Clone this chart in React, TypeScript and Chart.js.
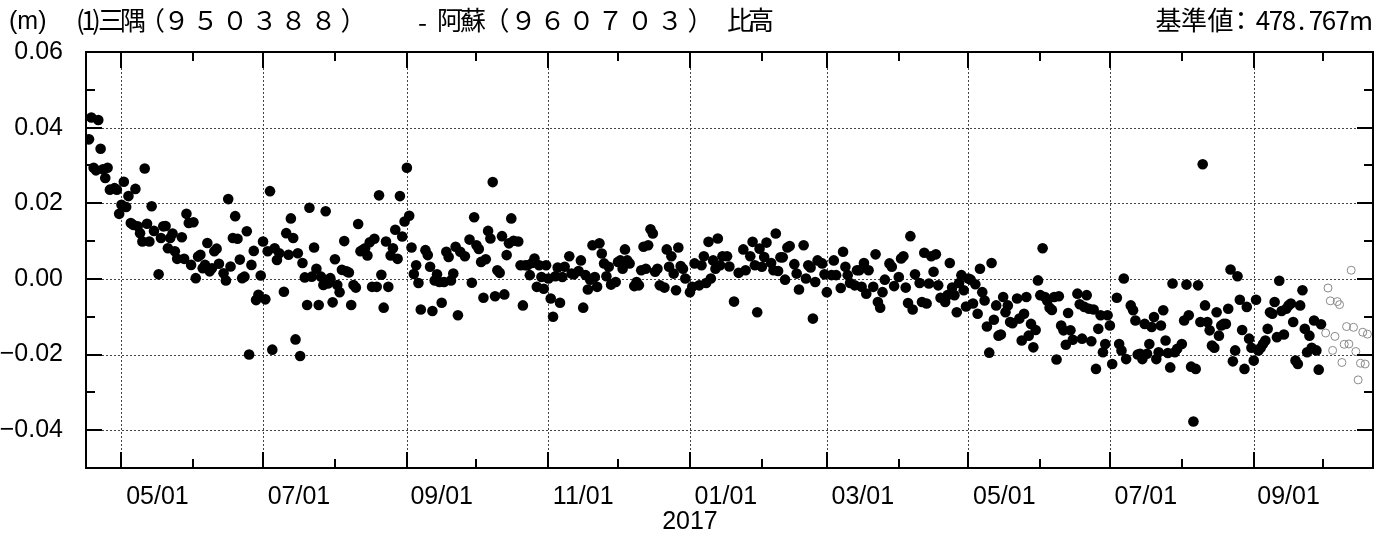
import React, { useEffect, useRef } from 'react';
import { Chart, registerables } from 'chart.js';

Chart.register(...registerables);

// ---- time base: day index counted from 2016-04-16 ----
const START = Date.UTC(2016, 3, 16);
const dayOf = (y: number, m: number, d: number) => Math.round((Date.UTC(y, m - 1, d) - START) / 86400000);

const X_MIN = -0.3;
const X_MAX = 554.4;
const Y_MIN = -0.05;
const Y_MAX = 0.06;

// ---- axis definitions ----
const yTickValues = [-0.04, -0.02, 0, 0.02, 0.04, 0.06];
const yMinorValues = [-0.03, -0.01, 0.01, 0.03, 0.05];
const yGridValues = [-0.04, -0.02, 0, 0.02, 0.04];
const monthStarts: [number, number][] = [
  [2016, 5], [2016, 6], [2016, 7], [2016, 8], [2016, 9], [2016, 10], [2016, 11], [2016, 12],
  [2017, 1], [2017, 2], [2017, 3], [2017, 4], [2017, 5], [2017, 6], [2017, 7], [2017, 8], [2017, 9], [2017, 10],
];
const xTickLabels = ['05/01', '07/01', '09/01', '11/01', '01/01', '03/01', '05/01', '07/01', '09/01'];
const yearLabel = '2017';
const yearLabelDate: [number, number, number] = [2017, 1, 1];

// ---- data: daily relative height (m), day index from 2016-04-16 ----
const solidDays = [
  1, 2, 3, 4, 5, 6, 7, 8, 9, 10, 12, 13, 14, 15, 16, 17, 18, 19, 20, 21, 22, 23, 24, 25, 26, 27, 28, 29,
  31, 32, 33, 34, 35, 36, 37, 38, 39, 41, 42, 43, 44, 45, 46, 47, 48, 49, 50, 51, 52, 53, 54, 55, 56, 57,
  59, 60, 61, 62, 63, 64, 65, 66, 67, 68, 69, 70, 71, 72, 73, 74, 75, 76, 77, 78, 79, 80, 81, 82, 83,
  85, 86, 87, 88, 89, 90, 91, 92, 93, 94, 95, 96, 97, 98, 99, 100, 101, 102, 103, 104, 105, 106, 107, 108,
  109, 110, 111, 112, 113, 114, 115, 116, 117, 118, 119, 120, 121, 122, 123, 124, 125, 126, 127, 128, 129,
  130, 131, 132, 133, 134, 135, 136, 137, 138, 139, 140, 141, 142, 143, 144, 146, 147, 148, 149, 150, 151,
  152, 153, 154, 155, 156, 157, 158, 159, 160, 161, 163, 165, 166, 167, 168, 169, 170, 171, 172, 173, 174,
  175, 176, 177, 178, 179, 180, 181, 182, 183, 184, 186, 187, 188, 189, 190, 191, 192, 193, 194, 195, 196,
  197, 198, 199, 200, 201, 202, 203, 204, 205, 206, 208, 209, 210, 212, 213, 214, 215, 216, 217, 218, 219,
  220, 221, 222, 223, 224, 225, 226, 228, 229, 230, 231, 232, 233, 234, 236, 237, 238, 239, 240, 241, 242,
  243, 244, 245, 246, 247, 249, 250, 251, 252, 253, 254, 255, 256, 257, 258, 260, 261, 262, 264, 265, 266,
  267, 268, 269, 270, 271, 272, 273, 274, 276, 277, 279, 281, 283, 284, 286, 287, 288, 289, 290, 291, 292,
  293, 295, 296, 297, 298, 299, 300, 301, 302, 303, 305, 306, 307, 309, 310, 311, 312, 313, 314, 315, 317,
  318, 319, 321, 322, 323, 325, 326, 327, 328, 329, 331, 332, 333, 334, 335, 336, 337, 339, 340, 341, 342,
  343, 344, 346, 347, 348, 350, 351, 352, 353, 354, 355, 356, 357, 359, 360, 361, 362, 363, 364, 365, 366,
  367, 368, 370, 371, 372, 373, 374, 375, 376, 377, 378, 379, 380, 381, 382, 383, 384, 385, 386, 387, 388,
  389, 390, 391, 392, 393, 394, 395, 396, 397, 398, 399, 401, 402, 403, 404, 405, 406, 407, 408, 409, 410,
  411, 412, 413, 414, 415, 416, 417, 418, 419, 420, 421, 422, 423, 424, 425, 427, 428, 429, 430, 431, 432,
  433, 434, 435, 436, 437, 438, 439, 440, 441, 442, 444, 445, 446, 447, 448, 450, 451, 452, 453, 454, 455,
  456, 457, 458, 459, 460, 461, 462, 463, 464, 465, 466, 467, 468, 469, 470, 472, 473, 474, 475, 476, 477,
  478, 479, 480, 481, 482, 483, 484, 485, 486, 487, 488, 489, 490, 491, 492, 493, 494, 495, 496, 497, 498,
  499, 500, 501, 502, 503, 504, 505, 506, 507, 508, 509, 510, 511, 512, 513, 514, 515, 516, 517, 518, 519,
  520, 521, 522, 523, 524, 525, 526, 527, 528, 529, 530, 531, 532,
];
const solidValues = [
  0.0369, 0.0427, 0.0294, 0.0287, 0.042, 0.0344, 0.029, 0.0267, 0.0294, 0.0236, 0.024, 0.0236, 0.0172, 0.0196,
  0.0257, 0.019, 0.0219, 0.0148, 0.0143, 0.0238, 0.0139, 0.0121, 0.0099, 0.0292, 0.0146, 0.0099, 0.0192, 0.0127,
  0.0012, 0.0108, 0.0139, 0.014, 0.0081, 0.0108, 0.012, 0.0073, 0.0053, 0.011, 0.0053, 0.0172, 0.0148, 0.0037,
  0.015, 0.0002, 0.0059, 0.0064, 0.0028, 0.0037, 0.0095, 0.002, 0.0028, 0.0073, 0.008, 0.004,
  0.0015, -0.0004, 0.0211, 0.0033, 0.0108, 0.0166, 0.0106, 0.0051, 0.0002, 0.0006, 0.0126, -0.02, 0.0037,
  0.0074, -0.0056, -0.0042, 0.0009, 0.0099, -0.0054, 0.0073, 0.0232, -0.0187, 0.0081, 0.005, 0.0068,
  -0.0034, 0.0121, 0.0064, 0.016, 0.0108, -0.016, 0.0068, -0.0204, 0.0042, 0.0004, -0.0069, 0.0188, 0.0006,
  0.0083, 0.0027, -0.0069, 0.0006, -0.0016, 0.0179, -0.0012, 0.0002, -0.0062, 0.0052, -0.0016,
  -0.0035, 0.0024, 0.01, 0.002, 0.0017, -0.0069, -0.0016, -0.0023, 0.0145, 0.0073, 0.0077, 0.0081, 0.0062,
  0.0097, -0.0021, 0.0106, -0.0021, 0.0221, 0.0011, -0.0076, 0.0099,
  -0.0021, 0.0062, 0.0081, 0.013, 0.0053, 0.0219, 0.0112, 0.0152, 0.0294, 0.0167, 0.0083, 0.0013, 0.0036,
  -0.0011, -0.0081, 0.0076, 0.0063, 0.0032, -0.0085, -0.0004, 0.0012,
  -0.0008, -0.0063, -0.0008, 0.0072, 0.0058, -0.0004, 0.0014, 0.0085, -0.0096, 0.0072, 0.006, 0.0104, -0.001,
  0.0163, 0.0089, 0.0079, 0.0045, -0.005, 0.0052, 0.0127, 0.0107,
  0.0256, -0.0046, 0.0023, 0.0016, 0.0113, -0.0041, 0.0063, 0.0094, 0.016, 0.0101, 0.0099, 0.0036, -0.007,
  0.0036, 0.0036, 0.001, 0.0042, 0.0054, -0.0021, 0.0036, 0.0005,
  -0.0026, 0.0036, 0.0001, -0.0052, -0.01, 0.0007, 0.003, -0.0063, 0.0005, 0.0032, 0.006, 0.0014, 0.0012,
  0.0021, 0.0049, -0.0076, 0.001, -0.0028, -0.0002, 0.0089, 0.0005,
  -0.0021, 0.0094, 0.0067, 0.0041, 0.0007, 0.0032, -0.0015, -0.0008, 0.0045, 0.0049, 0.0027, 0.0078, 0.0049,
  0.0041, -0.0019, -0.0008, -0.0017, 0.0023, 0.0085, 0.0027, 0.0089,
  0.0131, 0.012, 0.0019, 0.0027, -0.0017, -0.0023, 0.0078, 0.0032, 0.006, 0.0014, -0.003, 0.0083, 0.0034,
  0.0027, 0.0001, -0.0035, -0.0021, 0.0041, -0.0017, 0.0036, 0.006,
  -0.0011, 0.0098, 0.0001, 0.0049, 0.0027, 0.0107, 0.0036, 0.006, 0.006, 0.0033, -0.006, 0.0016, 0.0078,
  0.0023, 0.006, 0.0098, 0.0036, -0.0088, 0.008, 0.0032, 0.0058,
  0.0096, 0.0042, 0.0023, 0.012, 0.0021, 0.0057, 0.0057, -0.0002, 0.0083, 0.0087, 0.0039, 0.0014, -0.0028,
  0.0089, 0.0001, 0.0036, 0.003, -0.0105, -0.0008, 0.0049, 0.0041,
  0.0012, -0.0035, 0.001, 0.0049, 0.001, -0.0024, 0.0072, 0.0032, 0.001, -0.0011, -0.0017, 0.0023, 0.0023,
  -0.0021, 0.0042, -0.0039, 0.0023, -0.0021, 0.0065, -0.0061, -0.0076,
  -0.0035, -0.0002, 0.0041, 0.0032, -0.0019, 0.0005, 0.0054, 0.006, -0.0023, -0.0064, 0.0113, -0.0081, 0.0012,
  -0.0011, -0.0061, 0.0069, -0.0065, -0.0012, 0.006, 0.0019, 0.0065,
  -0.0017, -0.005, -0.0061, -0.0043, 0.0042, -0.0023, -0.0043, -0.0088, -0.0011, 0.001, -0.003, -0.0073,
  0.0001, -0.0002, -0.0065, -0.0014, -0.0092, 0.0027, -0.0035, -0.0057, -0.0126,
  -0.0195, 0.0042, -0.0108, -0.007, -0.015, -0.0147, -0.0048, -0.0088, -0.007, -0.0114, -0.0117, -0.0052,
  -0.0105, -0.0163, -0.0092, -0.0048, -0.015, -0.0119, -0.0181, -0.0135, -0.0004,
  -0.0043, 0.0081, -0.0048, -0.0058, -0.0076, -0.0082, -0.0048, -0.0213, -0.0046, -0.0123, -0.0136, -0.0174,
  -0.009, -0.0136, -0.0161, -0.0039, -0.0067, -0.0158, -0.0074, -0.0043, -0.0079,
  -0.0165, -0.0081, -0.0238, -0.0132, -0.0096, -0.0194, -0.0172, -0.0096, -0.0123, -0.0225, -0.005, -0.0172,
  -0.0189, 0.0001, -0.0212, -0.007, -0.0083, -0.011, -0.02, -0.0198, -0.0212,
  -0.0119, -0.0198, -0.0172, -0.0127, -0.0101, -0.0212, -0.0194, -0.0123, -0.0083, -0.0163, -0.0196, -0.0234,
  -0.0012, -0.0194, -0.0185, -0.0172, -0.011, -0.0015, -0.0096, -0.0232, -0.0377,
  -0.0238, -0.0017, -0.0114, 0.0303, -0.007, -0.0114, -0.0136, -0.0176, -0.0182, -0.0088, -0.015, -0.0123,
  -0.0119, -0.0119, -0.0079, 0.0025, -0.0218, -0.0189, 0.0007, -0.0055, -0.0135,
  -0.0238, -0.0074, -0.0158, -0.0182, -0.0216, -0.0055, -0.0189, -0.0182, -0.0172, -0.0163, -0.0132, -0.0088,
  -0.0092, -0.0061, -0.0154, -0.0005, -0.0085, -0.0147, -0.0079, -0.007, -0.0065,
  -0.0114, -0.0216, -0.0225, -0.007, -0.003, -0.0132, -0.0194, -0.015, -0.0182, -0.011, -0.0189, -0.024, -0.012,
];
// provisional values (open grey circles)
const openDays = [534, 535, 536, 537, 538, 539, 540, 541, 542, 543, 544, 545, 546, 547, 548, 549, 550, 551, 552];
const openValues = [
  -0.0143, -0.0024, -0.0058, -0.0189, -0.0152, -0.006, -0.0068, -0.0221, -0.0173, -0.0126, -0.0172, 0.0023,
  -0.0128, -0.0192, -0.0267, -0.0223, -0.0141, -0.0225, -0.0146,
];

// ---- titles ----
const unitLabel = '(m)';
const titleChars: [string, number][] = [
  ['(', 80.5], ['1', 88.5], [')', 96.5], ['三', 111], ['隅', 133], ['（', 152], ['９', 176.5], ['５', 205.5],
  ['０', 235], ['３', 264.5], ['８', 293.5], ['８', 323.5], ['）', 353.5], ['-', 422.5], ['阿', 450],
  ['蘇', 473], ['（', 496.5], ['９', 523.5], ['６', 552.5], ['０', 581.5], ['７', 610.5], ['０', 640],
  ['３', 670], ['）', 700.5], ['比', 740], ['高', 761],
];
const baseChars: [string, number][] = [
  ['基', 1168.5], ['準', 1194], ['値', 1220.5], ['：', 1241], ['4', 1263], ['7', 1276], ['8', 1289],
  ['.', 1301.5], ['7', 1316], ['6', 1329], ['7', 1342.5], ['m', 1361],
];

const LATIN = "'Liberation Sans', Arial, sans-serif";
const CJK = "'Noto Sans CJK JP', 'Noto Sans CJK SC', sans-serif";

const monthDays = monthStarts.map(([y, m]) => dayOf(y, m, 1));
const majorDays = monthDays.filter((_, i) => monthStarts[i][1] % 2 === 1);
const minorDays = monthDays.filter((_, i) => monthStarts[i][1] % 2 === 0);
const labelDays = monthDays
  .map((d, i) => ({ d, i }))
  .filter(({ i }) => monthStarts[i][1] % 2 === 1 && i + 1 < monthDays.length)
  .map(({ d, i }) => (d + monthDays[i + 1]) / 2)
  .slice(0, xTickLabels.length);

const framePlugin = {
  id: 'framePlugin',
  beforeDatasetsDraw(chart: any) {
    const { ctx, chartArea: a, scales } = chart;
    const x = scales.x;
    const y = scales.y;
    ctx.save();
    ctx.strokeStyle = '#444';
    ctx.lineWidth = 1;
    ctx.setLineDash([2, 2]);
    for (const d of majorDays) {
      const px = Math.round(x.getPixelForValue(d)) + 0.5;
      ctx.beginPath();
      ctx.moveTo(px, a.top);
      ctx.lineTo(px, a.bottom);
      ctx.stroke();
    }
    for (const v of yGridValues) {
      const py = Math.round(y.getPixelForValue(v)) + 0.5;
      ctx.beginPath();
      ctx.moveTo(a.left, py);
      ctx.lineTo(a.right, py);
      ctx.stroke();
    }
    ctx.restore();
  },
  afterDatasetsDraw(chart: any) {
    const { ctx, chartArea: a, scales } = chart;
    const x = scales.x;
    const y = scales.y;
    ctx.save();
    ctx.strokeStyle = '#000';
    ctx.lineWidth = 2;
    ctx.setLineDash([]);
    const seg = (x1: number, y1: number, x2: number, y2: number) => {
      ctx.beginPath();
      ctx.moveTo(x1, y1);
      ctx.lineTo(x2, y2);
      ctx.stroke();
    };
    const MAJ = 16;
    const MIN = 9;
    for (const d of majorDays) {
      const px = Math.round(x.getPixelForValue(d));
      seg(px, a.bottom, px, a.bottom - MAJ);
      seg(px, a.top, px, a.top + MAJ);
    }
    for (const d of minorDays) {
      const px = Math.round(x.getPixelForValue(d));
      if (px > a.right - 1) continue;
      seg(px, a.bottom, px, a.bottom - MIN);
      seg(px, a.top, px, a.top + MIN);
    }
    for (const v of yTickValues) {
      const py = Math.round(y.getPixelForValue(v));
      seg(a.left, py, a.left + MAJ, py);
      seg(a.right, py, a.right - MAJ, py);
    }
    for (const v of yMinorValues) {
      const py = Math.round(y.getPixelForValue(v));
      seg(a.left, py, a.left + MIN, py);
      seg(a.right, py, a.right - MIN, py);
    }
    ctx.strokeRect(a.left, a.top, a.right - a.left, a.bottom - a.top);
    ctx.restore();
  },
  afterDraw(chart: any) {
    const { ctx, scales } = chart;
    ctx.save();
    ctx.fillStyle = '#000';
    ctx.textBaseline = 'middle';
    ctx.font = `25px ${LATIN}`;
    ctx.textAlign = 'left';
    ctx.fillText(unitLabel, 9, 22);
    ctx.textAlign = 'center';
    ctx.fillText(yearLabel, scales.x.getPixelForValue(dayOf(...yearLabelDate)), 522);
    ctx.font = `26px ${CJK}`;
    for (const [ch, cx] of titleChars) {
      ctx.fillText(ch, cx, ch === '-' ? 22 : 20);
    }
    for (const [ch, cx] of baseChars) {
      ctx.fillText(ch, cx, 20);
    }
    ctx.restore();
  },
};

export default function App() {
  const ref = useRef<HTMLCanvasElement | null>(null);
  useEffect(() => {
    if (!ref.current) return;
    const chart = new Chart(ref.current, {
      type: 'scatter',
      data: {
        datasets: [
          {
            label: 'solid',
            data: solidDays.map((d, i) => ({ x: d, y: solidValues[i] })),
            pointRadius: 5.3,
            pointHoverRadius: 5.3,
            backgroundColor: '#000',
            borderWidth: 0,
          },
          {
            label: 'open',
            data: openDays.map((d, i) => ({ x: d, y: openValues[i] })),
            pointRadius: 4,
            pointHoverRadius: 4,
            backgroundColor: 'rgba(255,255,255,0)',
            borderColor: '#8a8a8a',
            borderWidth: 1,
          },
        ],
      },
      options: {
        animation: false,
        responsive: false,
        devicePixelRatio: 1,
        layout: { padding: { top: 52, right: 17, left: 0, bottom: 0 } },
        plugins: { legend: { display: false }, tooltip: { enabled: false }, title: { display: false } },
        events: [],
        scales: {
          x: {
            type: 'linear',
            min: X_MIN,
            max: X_MAX,
            grid: { display: false },
            border: { display: false },
            afterFit: (s: any) => { s.height = 67; },
            afterBuildTicks: (s: any) => { s.ticks = labelDays.map((v) => ({ value: v })); },
            ticks: {
              autoSkip: false,
              maxRotation: 0,
              padding: 6,
              color: '#000',
              font: { family: LATIN, size: 25 },
              callback: (_v: any, i: number) => xTickLabels[i],
            },
          },
          y: {
            type: 'linear',
            min: Y_MIN,
            max: Y_MAX,
            grid: { display: false },
            border: { display: false },
            afterFit: (s: any) => { s.width = 86; },
            afterBuildTicks: (s: any) => { s.ticks = yTickValues.map((v) => ({ value: v })); },
            ticks: {
              padding: 15,
              color: '#000',
              font: { family: LATIN, size: 25 },
              callback: (v: any) => (v < -1e-9 ? '\u2212' : '') + Math.abs(v).toFixed(2),
            },
          },
        },
      },
      plugins: [framePlugin],
    } as any);
    return () => chart.destroy();
  }, []);
  return (
    <div style={{ position: 'fixed', left: 0, top: 0, width: 1390, height: 535, background: '#fff' }}>
      <canvas ref={ref} width={1390} height={535} style={{ width: 1390, height: 535, display: 'block' }} />
    </div>
  );
}
